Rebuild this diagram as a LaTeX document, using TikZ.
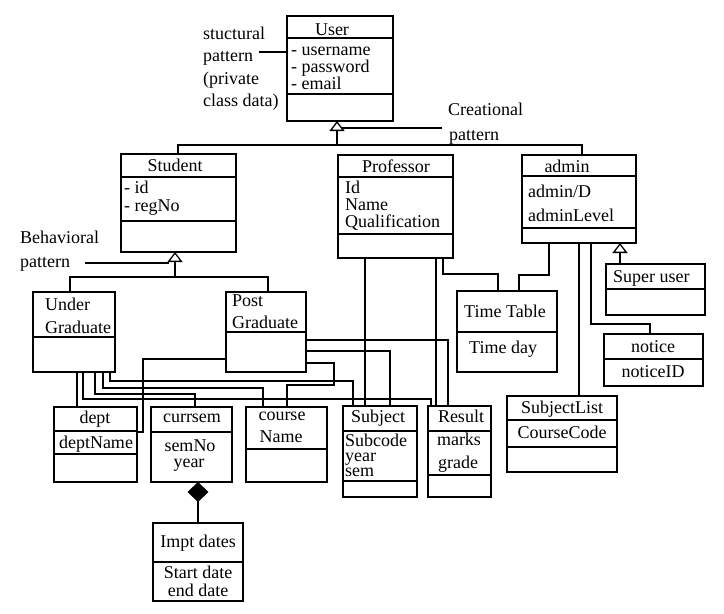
\documentclass[tikz,border=0pt]{standalone}
\usepackage{fontspec}
\setmainfont{Liberation Serif}
\usetikzlibrary{arrows.meta}
\newcommand\clsbox[5]{\node[cls,minimum width=#4pt,minimum height=#5pt] (#1) at (#2,#3) {};}
\newcommand\clsdiv[2]{\draw[ln] (#1.west |- 0,#2) -- (#1.east |- 0,#2);}
\begin{document}
\begin{tikzpicture}[x=1pt,y=-1pt,
  ln/.style={line width=1.3pt},
  cls/.style={draw,line width=1.3pt,inner sep=0pt,outer sep=0pt,anchor=north west},
  txt/.style={inner sep=0pt,yshift=-3.5pt,font=\fontsize{18}{17}\selectfont},
  lt/.style={txt,anchor=mid west},
  ct/.style={txt,anchor=mid},
  gen/.style={ln,-{Triangle[open,length=10pt,width=15pt]}},
  comp/.style={ln,-{Diamond[length=20pt,width=21pt]}}]
\useasboundingbox[fill=white] (0,0) rectangle (724,614);
% boxes
\clsbox{user}{287}{16}{106}{105}\clsdiv{user}{38}\clsdiv{user}{94}
\clsbox{stu}{121}{154}{115}{98}\clsdiv{stu}{177}\clsdiv{stu}{221}
\clsbox{prof}{338}{155}{115}{103}\clsdiv{prof}{177}\clsdiv{prof}{234}
\clsbox{adm}{522}{155}{114}{88}\clsdiv{adm}{176}\clsdiv{adm}{228}
\clsbox{su}{606}{264}{99}{51}\clsdiv{su}{289}
\clsbox{ug}{33}{292}{82}{80}\clsdiv{ug}{337}
\clsbox{pg}{226}{292}{80}{80}\clsdiv{pg}{332}
\clsbox{tt}{457}{291}{100}{81}\clsdiv{tt}{332}
\clsbox{notice}{604}{334}{99}{52}\clsdiv{notice}{359}
\clsbox{sl}{507}{396}{110}{76}\clsdiv{sl}{420}\clsdiv{sl}{447}
\clsbox{dept}{54}{407}{83}{75}\clsdiv{dept}{431}\clsdiv{dept}{454}
\clsbox{cur}{151}{407}{81}{75}\clsdiv{cur}{432}
\clsbox{course}{246}{407}{81}{75}\clsdiv{course}{449}
\clsbox{subj}{343}{406}{74}{91}\clsdiv{subj}{431}\clsdiv{subj}{481}
\clsbox{res}{428}{406}{63}{91}\clsdiv{res}{431}\clsdiv{res}{475}
\clsbox{impt}{153}{523}{90}{78}\clsdiv{impt}{562}
% texts
\node[ct] (tUser) at (332,30) {User};
\node[lt] (tU1) at (291,50) {- username};
\node[lt] (tU2) at (291,67) {- password};
\node[lt] (tU3) at (291,84) {- email};
\node[ct] (tStu) at (175,166) {Student};
\node[lt] (tS1) at (124,188) {- id};
\node[lt] (tS2) at (124,206) {- regNo};
\node[ct] (tProf) at (396,167) {Professor};
\node[lt] (tP1) at (345,188) {Id};
\node[lt] (tP2) at (345,205) {Name};
\node[lt] (tP3) at (345,222) {Qualification};
\node[ct] (tAdm) at (567,167) {admin};
\node[lt] (tA1) at (528,192) {admin/D};
\node[lt] (tA2) at (528,216) {adminLevel};
\node[lt] (tSu) at (613,277) {Super user};
\node[lt] (tUg1) at (45,305) {Under};
\node[lt] (tUg2) at (45,328) {Graduate};
\node[lt] (tPg1) at (232,301) {Post};
\node[lt] (tPg2) at (232,323) {Graduate};
\node[lt] (tTt1) at (464,312) {Time Table};
\node[lt] (tTt2) at (469,348) {Time day};
\node[ct] (tNo1) at (653,347) {notice};
\node[ct] (tNo2) at (653,372) {noticeID};
\node[ct] (tSl1) at (562,408) {SubjectList};
\node[ct] (tSl2) at (562,433) {CourseCode};
\node[ct] (tSub) at (378,417) {Subject};
\node[lt] (tSb1) at (345,441) {Subcode};
\node[lt] (tSb2) at (345,456) {year};
\node[lt] (tSb3) at (345,471) {sem};
\node[ct] (tRes) at (461,417) {Result};
\node[ct] (tR1) at (459,440) {marks};
\node[ct] (tR2) at (458,463) {grade};
\node[ct] (tDept) at (95,418) {dept};
\node[ct] (tD1) at (96,443) {deptName};
\node[ct] (tCur) at (192,417) {currsem};
\node[ct] (tC1) at (190,446) {semNo};
\node[ct] (tC2) at (189,462) {year};
\node[ct] (tCo1) at (282,415) {course};
\node[ct] (tCo2) at (281,437) {Name};
\node[ct] (tI1) at (198,542) {Impt dates};
\node[ct] (tI2) at (198,573) {Start date};
\node[ct] (tI3) at (198,591) {end date};
% pattern labels
\node[lt] (sp1) at (203,34) {stuctural};
\node[lt] (sp2) at (203,56) {pattern};
\node[lt] (sp3) at (203,79) {(private};
\node[lt] (sp4) at (203,101) {class data)};
\node[lt] (cp1) at (448,110) {Creational};
\node[lt] (cp2) at (449,135) {pattern};
\node[lt] (bp1) at (20,238) {Behavioral};
\node[lt] (bp2) at (20,262) {pattern};
% generalizations
\coordinate (ujoin) at (337,145);
\draw[ln] (stu.north -| 178,0) |- (ujoin) -| (adm.north -| 582,0);
\draw[gen] (ujoin) -- (user.south -| ujoin);
\coordinate (sjoin) at (175,277);
\draw[ln] (ug.north -| 70,0) |- (sjoin) -| (pg.north -| 268,0);
\draw[gen] (sjoin) -- (stu.south -| sjoin);
\draw[gen] (su.north -| 620,0) -- (adm.south -| 620,0);
\draw[comp] (impt.north -| 198,0) -- (cur.south -| 198,0);
% label leaders
\coordinate (utri) at (342,128);
\coordinate (cpl) at (442,128);
\draw[ln] (cpl) -- (utri);
\draw[ln] ([xshift=6pt]sp2.east |- 0,52) -- (user.west |- 0,52);
\coordinate (stri) at (169,263);
\draw[ln] ([xshift=15pt]bp2.east |- 0,263) -- (stri);
% associations
\draw[ln] (ug.south -| 77,0) -- (dept.north -| 77,0);
\draw[ln] (ug.south -| 83,0) |- (431,399) -- (res.north -| 431,0);
\draw[ln] (ug.south -| 95,0) |- (195,394) -- (cur.north -| 195,0);
\draw[ln] (ug.south -| 103,0) |- (263,388) -- (course.north -| 263,0);
\draw[ln] (ug.south -| 110,0) |- (353,381) -- (subj.north -| 353,0);
\draw[ln] (pg.west |- 0,359) -| (143,432) -- (dept.east |- 0,432);
\draw[ln] (pg.east |- 0,340) -| (res.north -| 448,0);
\draw[ln] (pg.east |- 0,351) -| (subj.north -| 390,0);
\draw[ln] (pg.east |- 0,363) -| (334,385) -| (course.north -| 287,0);
\draw[ln] (prof.south -| 365,0) -- (subj.north -| 365,0);
\draw[ln] (prof.south -| 436,0) -- (res.north -| 436,0);
\draw[ln] (prof.south -| 443,0) |- (498,274) -- (tt.north -| 498,0);
\draw[ln] (adm.south -| 549,0) |- (519,275) -- (tt.north -| 519,0);
\draw[ln] (adm.south -| 579,0) -- (sl.north -| 579,0);
\draw[ln] (adm.south -| 591,0) |- (650,324) -- (notice.north -| 650,0);
\end{tikzpicture}
\end{document}
